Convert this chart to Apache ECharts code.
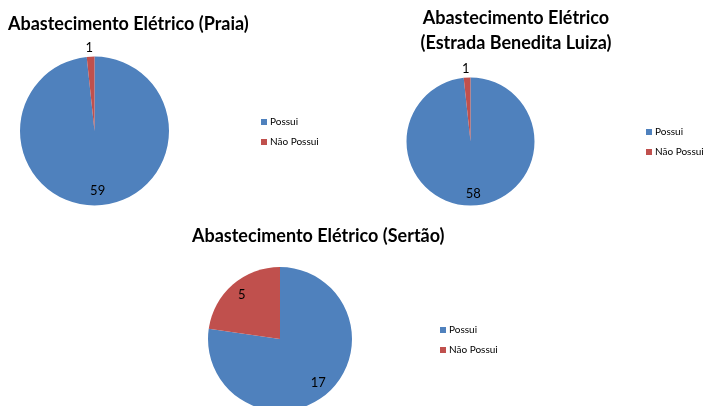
<!DOCTYPE html>
<html>
<head>
<meta charset="utf-8">
<title>Abastecimento Elétrico</title>
<script src="https://cdn.jsdelivr.net/npm/echarts@6/dist/echarts.min.js"></script>
<style>
    html, body { margin: 0; padding: 0; background: #fff; }
    #chartPie { width: 708px; height: 406px; }
</style>
</head>
<body>
<div id="chartPie"></div>
<script>
// dados
const categories = ['Possui', 'Não Possui'];
const praia = [59, 1];
const estrada = [58, 1];
const sertao = [17, 5];

const FONT = 'Lato';
const colors = ['#4F81BD', '#C0504D']; // paleta office

// fatias pequenas (valor 1) ficam com rótulo fora, as outras dentro
const isSmall = (v, values) => v / values.reduce((a, b) => a + b, 0) < 0.05;

const makePie = (values, center, r) => {
    const base = {
        type: 'pie',
        center: center,
        radius: [0, r],
        startAngle: 90,
        clockwise: true,
        avoidLabelOverlap: false,
        emphasis: { disabled: true },
        data: categories.map((name, i) => ({
            name: name,
            value: values[i],
            label: {
                show: isSmall(values[i], values),
                formatter: '{c}',
                position: 'outside',
                distanceToLabelLine: -3,
                color: '#000',
                fontFamily: FONT,
                fontSize: 13
            },
            labelLine: { show: false, length: 9, length2: 0 }
        }))
    };
    // serie invisivel maior, só pra colocar o rótulo interno perto da borda
    const overlay = {
        type: 'pie',
        center: center,
        radius: [0, r * 1.54],
        startAngle: 90,
        clockwise: true,
        silent: true,
        emphasis: { disabled: true },
        itemStyle: { color: 'transparent' },
        data: categories.map((name, i) => ({
            name: name,
            value: values[i],
            label: {
                show: !isSmall(values[i], values),
                formatter: '{c}',
                position: 'inside',
                color: '#000',
                fontFamily: FONT,
                fontSize: 13
            }
        }))
    };
    return [base, overlay];
};

const titleStyle = {
    fontFamily: FONT,
    fontWeight: 'bold',
    fontSize: 18,
    color: '#000',
    lineHeight: 25
};

const legendBase = {
    orient: 'vertical',
    icon: 'rect',
    itemWidth: 6,
    itemHeight: 6,
    itemGap: 10,
    data: categories,
    textStyle: { fontFamily: FONT, fontSize: 10, color: '#000', padding: [0, 0, 0, -2] }
};

const option = {
    color: colors,
    animation: false,
    title: [
        { text: 'Abastecimento Elétrico (Praia)', left: 3, top: 7, textStyle: titleStyle },
        { text: 'Abastecimento Elétrico\n(Estrada Benedita Luiza)', left: 511, top: 1, textAlign: 'center', textStyle: titleStyle },
        { text: 'Abastecimento Elétrico (Sertão)', left: 187, top: 219, textStyle: titleStyle }
    ],
    legend: [
        Object.assign({}, legendBase, { left: 256, top: 112 }),
        Object.assign({}, legendBase, { left: 641, top: 122 }),
        Object.assign({}, legendBase, { left: 435, top: 320 })
    ],
    series: [
        ...makePie(praia, [94.5, 131], 74.5),
        ...makePie(estrada, [470.5, 141.5], 64),
        ...makePie(sertao, [280, 339], 72)
    ]
};

const myChart = echarts.init(document.getElementById('chartPie'));
myChart.setOption(option);
</script>
</body>
</html>
